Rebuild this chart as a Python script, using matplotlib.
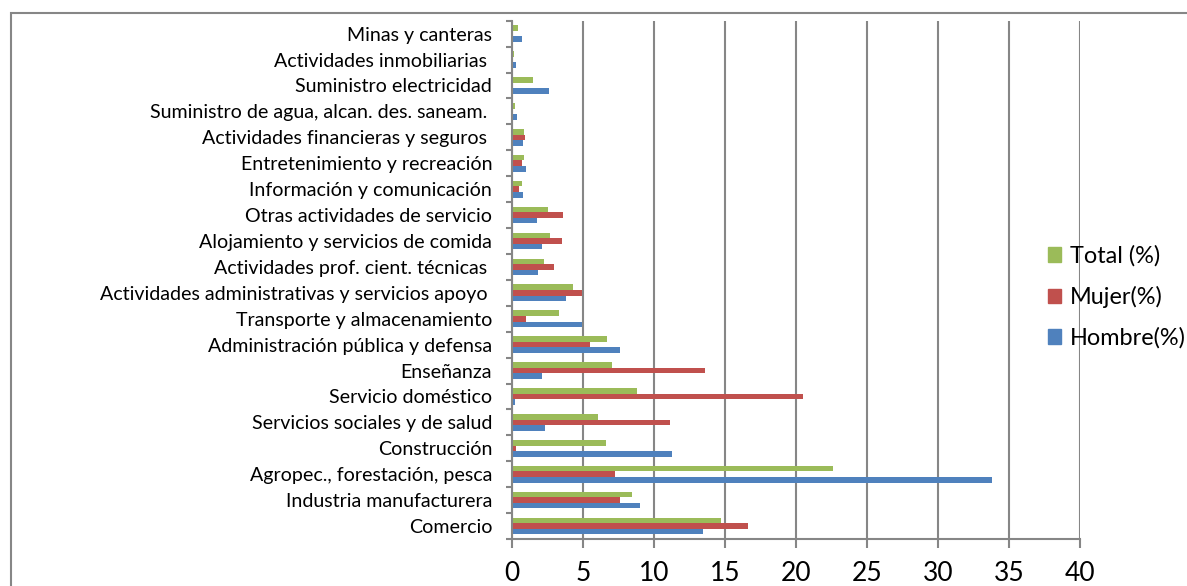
import matplotlib.pyplot as plt
import numpy as np
from matplotlib.patches import Rectangle, Patch

plt.rcParams['font.family'] = ['Lato', 'DejaVu Sans']

# categories from bottom (Comercio) to top (Minas y canteras)
categorias = [
    "Comercio",
    "Industria manufacturera",
    "Agropec., forestación, pesca",
    "Construcción",
    "Servicios sociales y de salud",
    "Servicio doméstico",
    "Enseñanza",
    "Administración pública y defensa",
    "Transporte y almacenamiento",
    "Actividades administrativas y servicios apoyo ",
    "Actividades prof. cient. técnicas ",
    "Alojamiento y servicios de comida",
    "Otras actividades de servicio",
    "Información y comunicación",
    "Entretenimiento y recreación",
    "Actividades financieras y seguros ",
    "Suministro de agua, alcan. des. saneam. ",
    "Suministro electricidad",
    "Actividades inmobiliarias ",
    "Minas y canteras",
]
hombre = [13.4, 9.0, 33.8, 11.25, 2.3, 0.19, 2.11, 7.56, 4.93, 3.75,
          1.78, 2.11, 1.71, 0.77, 0.94, 0.73, 0.33, 2.58, 0.26, 0.66]
mujer = [16.6, 7.56, 7.2, 0.23, 11.1, 20.5, 13.6, 5.49, 0.99, 4.9,
         2.91, 3.5, 3.57, 0.47, 0.68, 0.92, 0.0, 0.0, 0.0, 0.0]
total = [14.7, 8.4, 22.6, 6.6, 6.03, 8.75, 6.99, 6.67, 3.29, 4.25,
         2.25, 2.68, 2.49, 0.66, 0.82, 0.8, 0.19, 1.48, 0.14, 0.37]

c_total = '#9BBB59'
c_mujer = '#C0504D'
c_hombre = '#4F81BD'
gris = '#868686'

W, H = 1187, 586
fig = plt.figure(figsize=(W / 100, H / 100), dpi=100)
ax = fig.add_axes([512.3 / W, 1 - 539 / H, (1080.3 - 512.3) / W, (539 - 20.7) / H])

y = np.arange(len(categorias))
h = 0.215
ax.barh(y - h, hombre, height=h, color=c_hombre, label='Hombre(%)')
ax.barh(y, mujer, height=h, color=c_mujer, label='Mujer(%)')
ax.barh(y + h, total, height=h, color=c_total, label='Total (%)')

ax.set_xlim(0, 40)
ax.set_ylim(-0.5, len(categorias) - 0.5)
ax.set_xticks(np.arange(0, 41, 5))
ax.set_yticks(y)
ax.set_yticklabels(categorias, fontsize=14.1)
ax.set_yticks(np.arange(-0.5, len(categorias), 1), minor=True)
ax.tick_params(axis='y', which='major', length=0, pad=14.5)
ax.tick_params(axis='y', which='minor', length=4, width=1.5, color=gris, direction='out')
ax.tick_params(axis='x', length=6.5, width=1.5, color=gris, pad=9, labelsize=19)

ax.set_axisbelow(True)
ax.xaxis.grid(True, color=gris, linewidth=1.5)
for s in ['top', 'right']:
    ax.spines[s].set_visible(False)
for s in ['left', 'bottom']:
    ax.spines[s].set_color(gris)
    ax.spines[s].set_linewidth(1.5)

handles = [Patch(color=c_total), Patch(color=c_mujer), Patch(color=c_hombre)]
labels = ['Total (%)', 'Mujer(%)', 'Hombre(%)']
fig.legend(handles, labels, loc='center left', bbox_to_anchor=(1048 / W, 1 - 297 / H),
           frameon=False, fontsize=16.9, handlelength=0.56, handleheight=0.56,
           handletextpad=0.38, labelspacing=0.82, borderpad=0, borderaxespad=0)

fig.add_artist(Rectangle((11 / W, -0.1), 1.2, 1 - 13 / H + 0.1, transform=fig.transFigure,
                         fill=False, edgecolor=gris, linewidth=1.5))

fig.savefig('out.png', dpi=100)
